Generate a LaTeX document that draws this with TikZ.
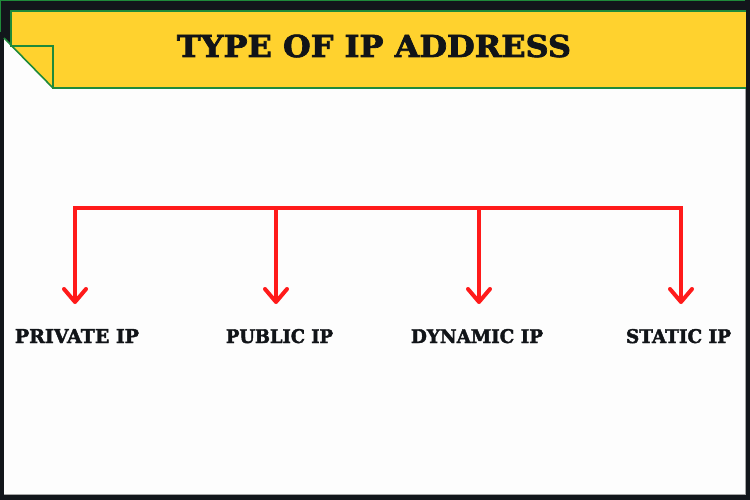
\documentclass[tikz,border=0pt]{standalone}
\usepackage{fontspec}
\setmainfont{DejaVu Serif}[BoldFeatures={FakeBold=2.2}]
\usepackage{graphicx}
\usetikzlibrary{calc}
\definecolor{darkbg}{HTML}{12161B}
\definecolor{banner}{HTML}{FFD22E}
\definecolor{bgreen}{HTML}{1F8A3A}
\definecolor{arrowred}{HTML}{FF1A1A}
\definecolor{panel}{HTML}{FDFDFD}
\definecolor{inktext}{HTML}{111418}
\tikzset{
  redline/.style={draw=arrowred, line width=4pt},
  vtip/.style={draw=arrowred, line width=4pt, line cap=round, line join=round},
  greenline/.style={draw=bgreen, line width=1.6pt},
  lab/.style={anchor=base, inner sep=0pt, text=inktext, font=\bfseries},
}
\begin{document}
\begin{tikzpicture}[x=1pt,y=-1pt]
\useasboundingbox (0,0) rectangle (750,500);
% background
\fill[darkbg] (0,0) rectangle (750,500);
\draw[bgreen, line width=1.4pt] (0,0.7) -- (745,0.7);
\draw[bgreen, line width=1.4pt] (0.7,0) -- (0.7,32);
% white panel
\fill[panel] (4,38) -- (53,88) -- (745,88) -- (745,494) -- (4,494) -- cycle;
\draw[gray!70, line width=0.8pt] (4,494) -- (745.4,494) -- (745.4,88);
% banner
\fill[banner] (11,11) rectangle (746,88);
\fill[panel] (4,38) -- (53,88) -- (4,88) -- cycle;
\draw[greenline] (746,11) -- (11,11) -- (11,46) -- (53,46) -- (53,88) -- (746,88);
\draw[greenline] (4,38) -- (53,88);
% title
\node[lab] (title) at (374,57) {\resizebox{394pt}{22.4pt}{\bfseries TYPE OF IP ADDRESS}};
% labels
\node[lab] (l1) at (77,343) {\resizebox{124pt}{14pt}{\bfseries PRIVATE IP}};
\node[lab] (l2) at (279.5,343) {\resizebox{107pt}{14pt}{\bfseries PUBLIC IP}};
\node[lab] (l3) at (477,343) {\resizebox{132pt}{14pt}{\bfseries DYNAMIC IP}};
\node[lab] (l4) at (678.5,343) {\resizebox{105pt}{14pt}{\bfseries STATIC IP}};
% connectors
\coordinate (j1) at (75,208);
\coordinate (j2) at (276,208);
\coordinate (j3) at (479,208);
\coordinate (j4) at (681,208);
\coordinate (t1) at (75,302);
\coordinate (t2) at (276,302);
\coordinate (t3) at (479,302);
\coordinate (t4) at (681,302);
\draw[redline, line join=miter] (t1) -- (j1) -- (j4) -- (t4);
\draw[redline] (j2) -- (t2);
\draw[redline] (j3) -- (t3);
\foreach \t in {t1,t2,t3,t4}{
  \draw[vtip] ($(\t)+(-11,-13)$) -- (\t) -- ($(\t)+(11,-13)$);
}
\end{tikzpicture}
\end{document}
